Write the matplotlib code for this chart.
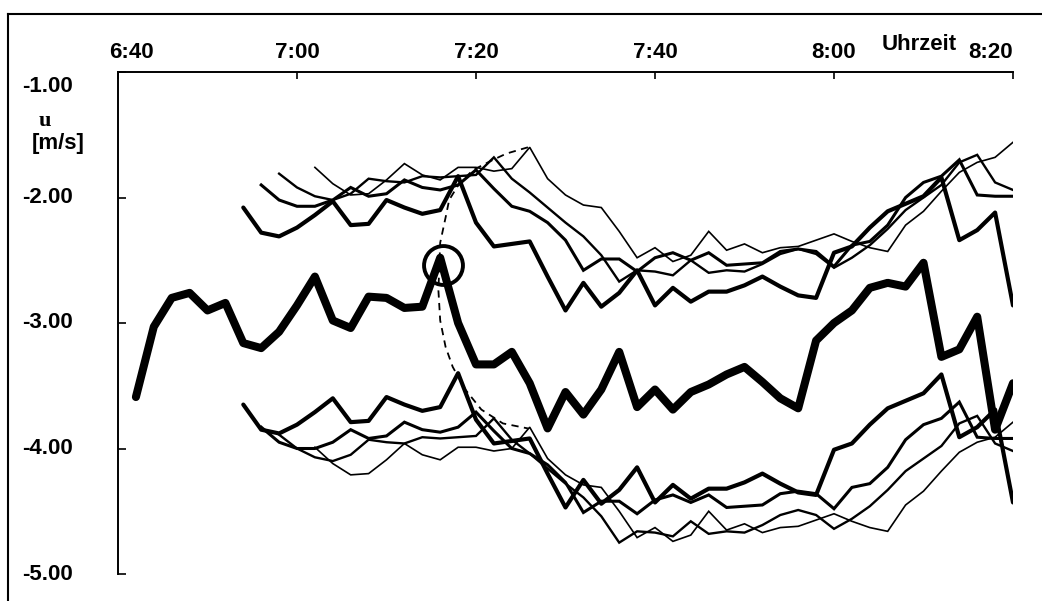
import numpy as np
import matplotlib.pyplot as plt
from matplotlib.lines import Line2D
from matplotlib.transforms import offset_copy

plt.rcParams['font.family'] = ['Liberation Sans', 'DejaVu Sans']

# time axis: minutes after midnight, samples every 2 minutes
tick_times = [400, 420, 440, 460, 480, 500]
tick_labels = ['6:40', '7:00', '7:20', '7:40', '8:00', '8:20']
y_ticks = [-1.0, -2.0, -3.0, -4.0, -5.0]
y_labels = ['-1.00', '-2.00', '-3.00', '-4.00', '-5.00']

# thick central series, starts 6:42
central_start = 402
central = [-3.59, -3.03, -2.80, -2.76, -2.90, -2.84, -3.16, -3.20, -3.07, -2.86,
           -2.63, -2.98, -3.04, -2.79, -2.80, -2.88, -2.87, -2.48, -3.00, -3.33,
           -3.33, -3.23, -3.48, -3.84, -3.55, -3.73, -3.53, -3.23, -3.67, -3.53,
           -3.69, -3.55, -3.49, -3.41, -3.35, -3.47, -3.60, -3.68, -3.14, -3.00,
           -2.90, -2.72, -2.68, -2.71, -2.52, -3.27, -3.21, -2.95, -3.85, -3.48]

# medium series (upper / lower), start 6:54
med_start = 414
med_up = [-2.08, -2.28, -2.31, -2.24, -2.14, -2.03, -2.22, -2.21, -2.02, -2.08,
          -2.13, -2.10, -1.83, -2.20, -2.39, -2.37, -2.35, -2.63, -2.90, -2.68,
          -2.87, -2.76, -2.58, -2.86, -2.72, -2.83, -2.75, -2.75, -2.70, -2.63,
          -2.71, -2.78, -2.80, -2.44, -2.39, -2.24, -2.11, -2.05, -1.99, -1.84,
          -2.34, -2.26, -2.12, -2.86]
med_low = [-3.65, -3.85, -3.88, -3.81, -3.71, -3.60, -3.79, -3.78, -3.59, -3.65,
           -3.70, -3.67, -3.40, -3.77, -3.96, -3.94, -3.92, -4.20, -4.47, -4.25,
           -4.44, -4.33, -4.15, -4.43, -4.29, -4.40, -4.32, -4.32, -4.27, -4.20,
           -4.28, -4.35, -4.37, -4.01, -3.96, -3.81, -3.68, -3.62, -3.56, -3.41,
           -3.91, -3.83, -3.69, -4.43]

# series A, start 6:56
a_start = 416
a_up = [-1.90, -2.02, -2.07, -2.07, -2.02, -1.92, -1.99, -1.97, -1.86, -1.92,
        -1.94, -1.90, -1.78, -1.93, -2.07, -2.11, -2.20, -2.34, -2.58, -2.49,
        -2.49, -2.59, -2.48, -2.44, -2.50, -2.44, -2.54, -2.53, -2.52, -2.43,
        -2.41, -2.43, -2.55, -2.38, -2.35, -2.22, -2.00, -1.88, -1.83, -1.70,
        -1.98, -1.99, -1.99]
a_low = [-3.83, -3.95, -4.00, -4.00, -3.95, -3.85, -3.92, -3.90, -3.79, -3.85,
         -3.87, -3.83, -3.71, -3.86, -4.00, -4.04, -4.13, -4.27, -4.51, -4.42,
         -4.42, -4.52, -4.41, -4.37, -4.43, -4.37, -4.47, -4.46, -4.45, -4.36,
         -4.34, -4.36, -4.48, -4.31, -4.28, -4.15, -3.93, -3.81, -3.76, -3.63,
         -3.91, -3.92, -3.92]

# series B, start 6:58
b_start = 418
b_up = [-1.81, -1.92, -1.99, -2.02, -1.97, -1.85, -1.87, -1.88, -1.83, -1.84,
        -1.83, -1.82, -1.68, -1.85, -1.96, -2.08, -2.20, -2.31, -2.46, -2.67,
        -2.58, -2.59, -2.62, -2.50, -2.60, -2.58, -2.59, -2.53, -2.45, -2.41,
        -2.45, -2.56, -2.48, -2.38, -2.25, -2.10, -2.00, -1.90, -1.72, -1.66,
        -1.88, -1.94]
b_low = [-3.89, -4.00, -4.07, -4.10, -4.05, -3.93, -3.95, -3.96, -3.91, -3.92,
         -3.91, -3.90, -3.76, -3.93, -4.04, -4.16, -4.28, -4.39, -4.54, -4.75,
         -4.66, -4.67, -4.70, -4.58, -4.68, -4.66, -4.67, -4.61, -4.53, -4.49,
         -4.53, -4.64, -4.56, -4.46, -4.33, -4.18, -4.08, -3.98, -3.80, -3.74,
         -3.96, -4.02]

# series C, start 7:02
c_start = 422
c_up = [-1.76, -1.89, -1.98, -1.97, -1.86, -1.73, -1.82, -1.86, -1.76, -1.76,
        -1.79, -1.77, -1.60, -1.85, -1.98, -2.06, -2.08, -2.27, -2.48, -2.40,
        -2.51, -2.46, -2.27, -2.42, -2.37, -2.44, -2.40, -2.39, -2.34, -2.29,
        -2.35, -2.40, -2.43, -2.22, -2.11, -1.95, -1.80, -1.72, -1.68, -1.56]
c_low = [-3.99, -4.12, -4.21, -4.20, -4.09, -3.96, -4.05, -4.09, -3.99, -3.99,
         -4.02, -4.00, -3.83, -4.08, -4.21, -4.29, -4.31, -4.50, -4.71, -4.63,
         -4.74, -4.69, -4.50, -4.65, -4.60, -4.67, -4.63, -4.62, -4.57, -4.52,
         -4.58, -4.63, -4.66, -4.45, -4.34, -4.18, -4.03, -3.95, -3.91, -3.79]

# dashed trajectory through the peaks
dash_t = [445.8, 443.4, 441.9, 439.7, 438.2, 437.0, 436.6, 436.0, 435.8, 436.0,
          436.6, 437.4, 438.8, 440.6, 443.0, 445.8]
dash_v = [-1.60, -1.65, -1.70, -1.78, -1.88, -2.02, -2.16, -2.36, -2.74, -2.98,
          -3.19, -3.35, -3.53, -3.69, -3.80, -3.84]

# marked peak
circle_t = 436.3
circle_v = -2.54


def times(start, vals):
    return start + 2 * np.arange(len(vals))


fig = plt.figure(figsize=(10.42, 6.01), dpi=100)
ax = fig.add_axes([118 / 1042, 1 - 574 / 601, (1013 - 118) / 1042, (574 - 72) / 601])

thin = dict(color='black', solid_joinstyle='miter')
ax.plot(times(c_start, c_up), c_up, lw=1.2, **thin)
ax.plot(times(c_start, c_low), c_low, lw=1.2, **thin)
ax.plot(times(b_start, b_up), b_up, lw=1.7, **thin)
ax.plot(times(b_start, b_low), b_low, lw=1.7, **thin)
ax.plot(times(a_start, a_up), a_up, lw=2.2, **thin)
ax.plot(times(a_start, a_low), a_low, lw=2.2, **thin)
ax.plot(times(med_start, med_up), med_up, lw=3.0, color='black',
        solid_joinstyle='round', solid_capstyle='round')
ax.plot(times(med_start, med_low), med_low, lw=3.0, color='black',
        solid_joinstyle='round', solid_capstyle='round')
ax.plot(dash_t, dash_v, color='black', lw=1.3, dashes=(4, 3))
ax.plot(times(central_start, central), central, lw=5.8, color='black',
        solid_joinstyle='round', solid_capstyle='round')
ax.plot(circle_t, circle_v, 'o', ms=28, mfc='none', mec='black', mew=2.8)

ax.set_xlim(400, 500)
ax.set_ylim(-5, -1)
for s in ['right', 'bottom']:
    ax.spines[s].set_visible(False)
for s in ['top', 'left']:
    ax.spines[s].set_linewidth(1.4)

ax.xaxis.tick_top()
ax.set_xticks(tick_times)
ax.set_yticks(y_ticks)
ax.tick_params(axis='x', direction='in', length=5, width=1.2, labeltop=False, labelbottom=False)
ax.tick_params(axis='y', direction='in', length=6, width=1.2, labelleft=False)

lab_font = dict(fontsize=16, fontweight='bold')
for t, lab in zip(tick_times, tick_labels):
    ha, dx = 'center', 0
    if lab == '6:40':
        dx = 13
    if lab == '8:20':
        ha = 'right'
    tr = offset_copy(ax.get_xaxis_transform(), fig=fig, x=dx, y=20, units='dots')
    ax.text(t, 1, lab, transform=tr, ha=ha, va='center', **lab_font)

tr = offset_copy(ax.get_xaxis_transform(), fig=fig, x=-56, y=27, units='dots')
ax.text(tick_times[-1], 1, 'Uhrzeit', transform=tr, ha='right', va='center', **lab_font)

for v, lab in zip(y_ticks, y_labels):
    dy = -15 if lab == '-1.00' else 0
    tr = offset_copy(ax.get_yaxis_transform(), fig=fig, x=-96, y=dy, units='dots')
    ax.text(0, v, lab, transform=tr, ha='left', va='center', **lab_font)

fig.text(45 / 1042, 1 - 121 / 601, 'u', ha='center', va='center',
         family=['Liberation Serif', 'DejaVu Serif'], fontsize=16, fontweight='bold')
fig.text(58 / 1042, 1 - 143 / 601, '[m/s]', ha='center', va='center', **lab_font)

# outer frame of the scanned figure
fig.add_artist(Line2D([8 / 1042, 1], [1 - 14 / 601] * 2, transform=fig.transFigure,
                      color='black', lw=1.5))
fig.add_artist(Line2D([8 / 1042] * 2, [0, 1 - 14 / 601], transform=fig.transFigure,
                      color='black', lw=1.5))

fig.savefig('out.png', dpi=100)
